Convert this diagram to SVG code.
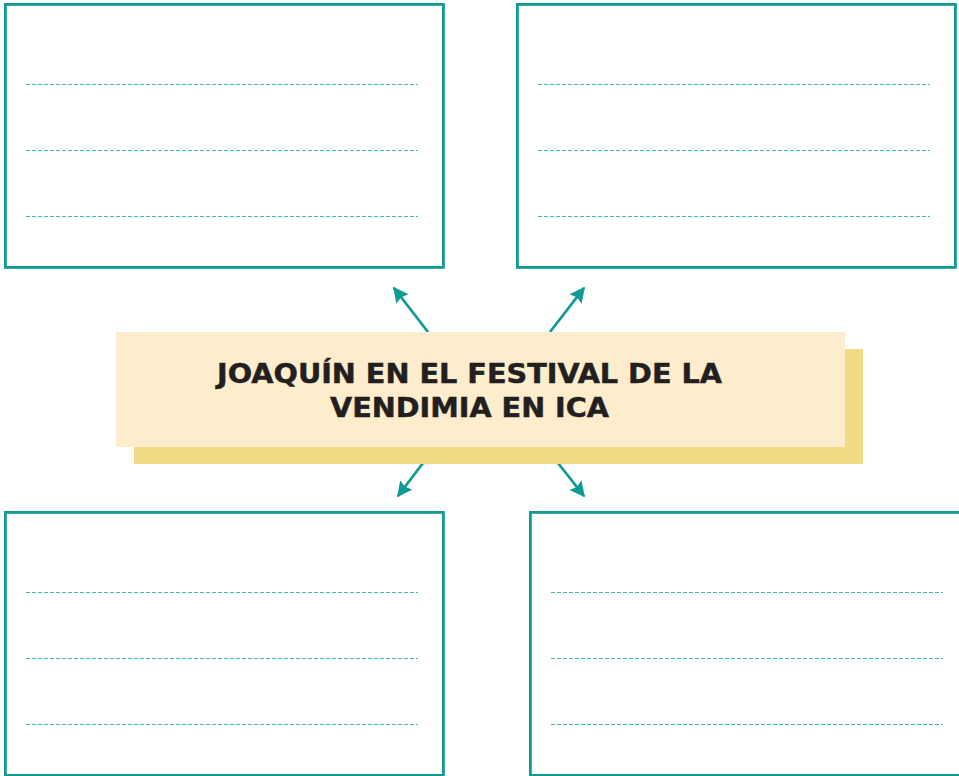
<svg xmlns="http://www.w3.org/2000/svg" width="959" height="776" viewBox="0 0 959 776">
<style>
.box{fill:#fff;stroke:#0E9B91;stroke-width:2.8}
.dash{stroke:#3DBAB1;stroke-width:1.2;stroke-dasharray:4 2;fill:none}
.conn{stroke:#0E9B91;stroke-width:2.8;fill:none}
.title{font-family:"DejaVu Sans","Liberation Sans",sans-serif;font-weight:bold;font-size:27px;fill:#231F20;stroke:#231F20;stroke-width:0.5;text-anchor:middle}
</style>
<defs>
<marker id="ah" viewBox="0 0 10 10" refX="9" refY="5" markerWidth="5.5" markerHeight="5.5" markerUnits="strokeWidth" orient="auto">
<path d="M0,0 L10,5 L0,10 L1.5,5 Z" fill="#0E9B91"/>
</marker>
</defs>
<rect width="959" height="776" fill="#fff"/>
<g id="box-top-left">
<rect class="box" x="5.4" y="4.4" width="438" height="263"/>
<line class="dash" x1="26" y1="84.5" x2="418" y2="84.5"/>
<line class="dash" x1="26" y1="150.5" x2="418" y2="150.5"/>
<line class="dash" x1="26" y1="216.5" x2="418" y2="216.5"/>
</g>
<g id="box-top-right">
<rect class="box" x="517.4" y="4.4" width="438" height="263"/>
<line class="dash" x1="538" y1="84.5" x2="930" y2="84.5"/>
<line class="dash" x1="538" y1="150.5" x2="930" y2="150.5"/>
<line class="dash" x1="538" y1="216.5" x2="930" y2="216.5"/>
</g>
<g id="box-bottom-left">
<rect class="box" x="5.4" y="512.4" width="438" height="263"/>
<line class="dash" x1="26" y1="592.5" x2="418" y2="592.5"/>
<line class="dash" x1="26" y1="658.5" x2="418" y2="658.5"/>
<line class="dash" x1="26" y1="724.5" x2="418" y2="724.5"/>
</g>
<g id="box-bottom-right">
<rect class="box" x="530.4" y="512.4" width="438" height="263"/>
<line class="dash" x1="551" y1="592.5" x2="943" y2="592.5"/>
<line class="dash" x1="551" y1="658.5" x2="943" y2="658.5"/>
<line class="dash" x1="551" y1="724.5" x2="943" y2="724.5"/>
</g>
<g id="connectors">
<line class="conn" x1="428" y1="332" x2="394" y2="288" marker-end="url(#ah)"/>
<line class="conn" x1="550" y1="332" x2="584" y2="288" marker-end="url(#ah)"/>
<line class="conn" x1="423" y1="463" x2="398" y2="496" marker-end="url(#ah)"/>
<line class="conn" x1="558" y1="463" x2="584" y2="496" marker-end="url(#ah)"/>
</g>
<g id="center">
<rect x="134" y="349" width="729" height="115" fill="#F3DB85"/>
<rect x="116" y="332" width="729" height="115" fill="#FDEDCD"/>
<text class="title" x="469.5" y="383" textLength="505" lengthAdjust="spacingAndGlyphs">JOAQUÍN EN EL FESTIVAL DE LA</text>
<text class="title" x="469.5" y="417" textLength="279" lengthAdjust="spacingAndGlyphs">VENDIMIA EN ICA</text>
</g>
</svg>
